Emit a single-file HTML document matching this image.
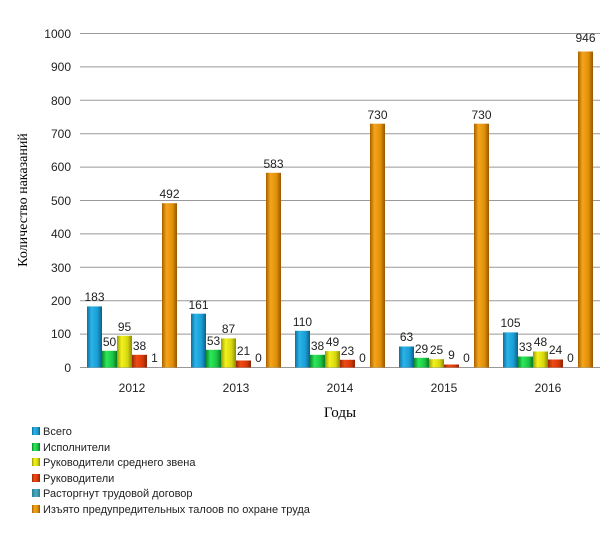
<!DOCTYPE html>
<html><head><meta charset="utf-8"><style>
body{margin:0;background:#fff}
svg text{font-family:"Liberation Sans",sans-serif}
</style></head><body>
<svg width="612" height="528" viewBox="0 0 612 528" xmlns="http://www.w3.org/2000/svg">
<defs>
<linearGradient id="g0" x1="0" x2="1"><stop offset="0" stop-color="#0f6f9a"/><stop offset=".3" stop-color="#2ab4ea"/><stop offset=".7" stop-color="#1a9dd4"/><stop offset="1" stop-color="#0c5f85"/></linearGradient>
<linearGradient id="g1" x1="0" x2="1"><stop offset="0" stop-color="#0b8a2a"/><stop offset=".3" stop-color="#2ee85a"/><stop offset=".7" stop-color="#1cc744"/><stop offset="1" stop-color="#0a7a25"/></linearGradient>
<linearGradient id="g2" x1="0" x2="1"><stop offset="0" stop-color="#9a9a05"/><stop offset=".3" stop-color="#f2f21c"/><stop offset=".7" stop-color="#d8d810"/><stop offset="1" stop-color="#8a8a04"/></linearGradient>
<linearGradient id="g3" x1="0" x2="1"><stop offset="0" stop-color="#9a2a05"/><stop offset=".3" stop-color="#f04a12"/><stop offset=".7" stop-color="#d83a0a"/><stop offset="1" stop-color="#8a2204"/></linearGradient>
<linearGradient id="g4" x1="0" x2="1"><stop offset="0" stop-color="#2a7f94"/><stop offset=".5" stop-color="#4aaec4"/><stop offset="1" stop-color="#2a7f94"/></linearGradient>
<linearGradient id="g5" x1="0" x2="1"><stop offset="0" stop-color="#a86000"/><stop offset=".3" stop-color="#f5a51a"/><stop offset=".7" stop-color="#e0900a"/><stop offset="1" stop-color="#985500"/></linearGradient>
</defs>
<g stroke="#999" stroke-width="1">
<line x1="80" x2="600" y1="33.5" y2="33.5"/><line x1="80" x2="600" y1="66.9" y2="66.9"/><line x1="80" x2="600" y1="100.3" y2="100.3"/><line x1="80" x2="600" y1="133.7" y2="133.7"/><line x1="80" x2="600" y1="167.1" y2="167.1"/><line x1="80" x2="600" y1="200.5" y2="200.5"/><line x1="80" x2="600" y1="233.9" y2="233.9"/><line x1="80" x2="600" y1="267.3" y2="267.3"/><line x1="80" x2="600" y1="300.7" y2="300.7"/><line x1="80" x2="600" y1="334.1" y2="334.1"/><line x1="80" x2="600" y1="367.5" y2="367.5"/>
</g>
<g font-size="12" fill="#222" text-anchor="end">
<text x="71" y="38">1000</text><text x="71" y="71">900</text><text x="71" y="105">800</text><text x="71" y="138">700</text><text x="71" y="171">600</text><text x="71" y="205">500</text><text x="71" y="238">400</text><text x="71" y="272">300</text><text x="71" y="305">200</text><text x="71" y="338">100</text><text x="71" y="372">0</text>
</g>
<g>
<rect x="87" y="306.4" width="15" height="61.1" fill="url(#g0)"/>
<rect x="102" y="350.8" width="15" height="16.7" fill="url(#g1)"/>
<rect x="117" y="335.8" width="15" height="31.7" fill="url(#g2)"/>
<rect x="132" y="354.8" width="15" height="12.7" fill="url(#g3)"/>
<rect x="162" y="203.2" width="15" height="164.3" fill="url(#g5)"/>
<rect x="191" y="313.7" width="15" height="53.8" fill="url(#g0)"/>
<rect x="206" y="349.8" width="15" height="17.7" fill="url(#g1)"/>
<rect x="221" y="338.4" width="15" height="29.1" fill="url(#g2)"/>
<rect x="236" y="360.5" width="15" height="7" fill="url(#g3)"/>
<rect x="266" y="172.8" width="15" height="194.7" fill="url(#g5)"/>
<rect x="295" y="330.8" width="15" height="36.7" fill="url(#g0)"/>
<rect x="310" y="354.8" width="15" height="12.7" fill="url(#g1)"/>
<rect x="325" y="351.1" width="15" height="16.4" fill="url(#g2)"/>
<rect x="340" y="359.8" width="15" height="7.7" fill="url(#g3)"/>
<rect x="370" y="123.7" width="15" height="243.8" fill="url(#g5)"/>
<rect x="399" y="346.5" width="15" height="21" fill="url(#g0)"/>
<rect x="414" y="357.8" width="15" height="9.7" fill="url(#g1)"/>
<rect x="429" y="359.2" width="15" height="8.3" fill="url(#g2)"/>
<rect x="444" y="364.5" width="15" height="3" fill="url(#g3)"/>
<rect x="474" y="123.7" width="15" height="243.8" fill="url(#g5)"/>
<rect x="503" y="332.4" width="15" height="35.1" fill="url(#g0)"/>
<rect x="518" y="356.5" width="15" height="11" fill="url(#g1)"/>
<rect x="533" y="351.5" width="15" height="16" fill="url(#g2)"/>
<rect x="548" y="359.5" width="15" height="8" fill="url(#g3)"/>
<rect x="578" y="51.5" width="15" height="316" fill="url(#g5)"/>
</g>
<g font-size="12" fill="#222" text-anchor="middle">
<text x="94.5" y="301">183</text><text x="109.5" y="346">50</text><text x="124.5" y="331">95</text><text x="139.5" y="350">38</text><text x="154.5" y="362">1</text><text x="169.5" y="198">492</text>
<text x="198.5" y="309">161</text><text x="213.5" y="345">53</text><text x="228.5" y="333">87</text><text x="243.5" y="355">21</text><text x="258.5" y="362">0</text><text x="273.5" y="168">583</text>
<text x="302.5" y="326">110</text><text x="317.5" y="350">38</text><text x="332.5" y="346">49</text><text x="347.5" y="355">23</text><text x="362.5" y="362">0</text><text x="377.5" y="119">730</text>
<text x="406.5" y="341">63</text><text x="421.5" y="353">29</text><text x="436.5" y="354">25</text><text x="451.5" y="359">9</text><text x="466.5" y="362">0</text><text x="481.5" y="119">730</text>
<text x="510.5" y="327">105</text><text x="525.5" y="351">33</text><text x="540.5" y="346">48</text><text x="555.5" y="354">24</text><text x="570.5" y="362">0</text><text x="585.5" y="42">946</text>
</g>
<g font-size="12" fill="#222" text-anchor="middle">
<text x="132" y="392">2012</text><text x="236" y="392">2013</text><text x="340" y="392">2014</text><text x="444" y="392">2015</text><text x="548" y="392">2016</text>
</g>
<text x="340" y="417" font-size="15" text-anchor="middle" style="font-family:'Liberation Serif',serif">Годы</text>
<text transform="translate(27,200) rotate(-90)" font-size="14" text-anchor="middle" style="font-family:'Liberation Serif',serif">Количество наказаний</text>
<g font-size="11" fill="#222">
<rect x="32" y="427" width="8" height="8" fill="url(#g0)"/><text x="43" y="435">Всего</text>
<rect x="32" y="443" width="8" height="8" fill="url(#g1)"/><text x="43" y="451">Исполнители</text>
<rect x="32" y="458" width="8" height="8" fill="url(#g2)"/><text x="43" y="466">Руководители среднего звена</text>
<rect x="32" y="474" width="8" height="8" fill="url(#g3)"/><text x="43" y="482">Руководители</text>
<rect x="32" y="489" width="8" height="8" fill="url(#g4)"/><text x="43" y="497">Расторгнут трудовой договор</text>
<rect x="32" y="505" width="8" height="8" fill="url(#g5)"/><text x="43" y="513">Изъято предупредительных талоов по охране труда</text>
</g>
</svg>
</body></html>
